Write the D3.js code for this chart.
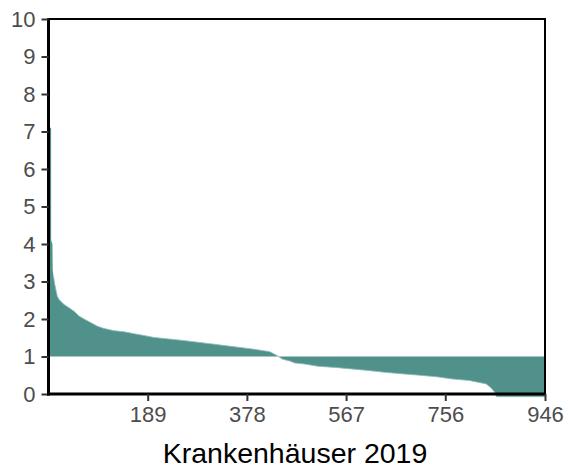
<!DOCTYPE html>
<html><head><meta charset="utf-8">
<script src="https://cdn.jsdelivr.net/npm/d3@7"></script>
<style>body{margin:0;background:#fff}svg{display:block}text{font-family:"Liberation Sans",Arial,sans-serif}</style>
</head><body><svg id="c" width="564" height="469"></svg>
<script>
// Hospitals sorted by value (rank 0..946)
const ranks  = [0, 5, 5.1, 7.5, 8, 10, 12, 16.7, 20, 29.5, 39, 48.5, 58, 67.6, 80, 93, 105.6, 124.7, 143.7, 162.7, 181.8, 200.8, 256, 320, 383.5, 421.6, 435, 446, 459.6, 469, 488, 513, 545, 577, 608, 640, 672, 707, 739, 770, 802, 834, 843.5, 850, 853.6, 946];
const values = [7.1, 7.1, 4.1, 4.0, 3.3, 3.1, 2.92, 2.61, 2.52, 2.39, 2.30, 2.21, 2.08, 2.00, 1.91, 1.81, 1.75, 1.69, 1.66, 1.61, 1.56, 1.51, 1.43, 1.32, 1.21, 1.13, 1.03, 0.93, 0.88, 0.83, 0.80, 0.74, 0.71, 0.67, 0.63, 0.58, 0.54, 0.50, 0.46, 0.40, 0.36, 0.27, 0.16, 0.05, -0.07, -0.07];
const baseline = 1;
const xTicks = [189, 378, 567, 756, 946];
const yTicks = [0,1,2,3,4,5,6,7,8,9,10];
const xTitle = "Krankenhäuser 2019";

const svg = d3.select("#c");
const L = 48.5, R = 545, T = 19, B = 394;
const x = d3.scaleLinear().domain([0, 946]).range([L, R]);
const y = d3.scaleLinear().domain([0, 10]).range([B, T]);
const pts = ranks.map((r,i)=>({r, v: values[i]}));

svg.append("path").datum(pts)
  .attr("fill", "#51918c")
  .attr("d", d3.area().x(d=>x(d.r)).y0(y(baseline)).y1(d=>y(d.v)));
svg.append("path").datum(pts.slice(5))
  .attr("fill", "none").attr("stroke", "#8dbcb8").attr("stroke-width", 0.8)
  .attr("d", d3.line().x(d=>x(d.r)).y(d=>y(d.v)));

// panel border
svg.append("rect").attr("x", L).attr("y", T).attr("width", R-L).attr("height", B-T)
  .attr("fill", "none").attr("stroke", "#000").attr("stroke-width", 2);

const yAxis = svg.append("g").attr("transform", `translate(${L},0)`)
  .call(d3.axisLeft(y).tickValues(yTicks).tickSize(7).tickPadding(6).tickFormat(d3.format("d")));
const xAxis = svg.append("g").attr("transform", `translate(0,${B})`)
  .call(d3.axisBottom(x).tickValues(xTicks).tickSize(7).tickPadding(5).tickFormat(d3.format("d")));
[yAxis, xAxis].forEach(g=>{
  g.select(".domain").attr("stroke", "#000").attr("stroke-width", 3);
  g.selectAll(".tick line").attr("stroke", "#333").attr("stroke-width", 2);
  g.selectAll(".tick text").attr("fill", "#4d4d4d").attr("font-size", 22).attr("font-family", "Liberation Sans, Arial, sans-serif");
});
xAxis.select(".domain").attr("d", `M${L-1.5},0H${R+1}`);
yAxis.select(".domain").attr("d", `M0,${T-1}V${B+1.5}`);

svg.append("text").attr("x", 295).attr("y", 463).attr("text-anchor", "middle")
  .attr("font-size", 28.5).attr("fill", "#000").text(xTitle);
</script></body></html>
